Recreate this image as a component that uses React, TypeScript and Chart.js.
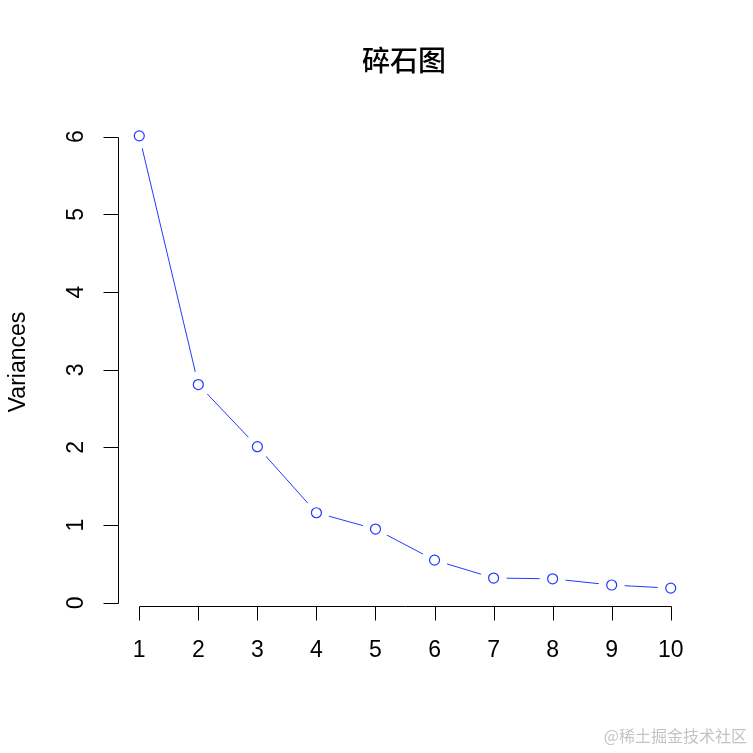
import { useEffect, useRef } from "react";
import { Chart, registerables } from "chart.js";

Chart.register(...registerables);

const components = [1, 2, 3, 4, 5, 6, 7, 8, 9, 10];
const variances = [6.01, 2.81, 2.01, 1.16, 0.95, 0.55, 0.32, 0.31, 0.23, 0.19];
const xTicks = [1, 2, 3, 4, 5, 6, 7, 8, 9, 10];
const yTicks = [0, 1, 2, 3, 4, 5, 6];
const titleText = "碎石图";
const yLabel = "Variances";
const watermark = "@稀土掘金技术社区";

const BLUE = "#1f3cff";
const LABEL_FONT = "23px 'Liberation Sans', Arial, sans-serif";

const rAxesPlugin = {
  id: "rAxes",
  afterDraw(chart: any) {
    const { ctx, chartArea } = chart;
    const xs = chart.scales.x;
    const ys = chart.scales.y;
    ctx.save();
    ctx.strokeStyle = "#000";
    ctx.fillStyle = "#000";
    ctx.lineWidth = 1;

    // Y axis
    const ax = Math.round(chartArea.left) + 0.5;
    const yTop = Math.round(ys.getPixelForValue(yTicks[yTicks.length - 1])) + 0.5;
    const yBot = Math.round(ys.getPixelForValue(yTicks[0])) + 0.5;
    ctx.beginPath();
    ctx.moveTo(ax, yTop);
    ctx.lineTo(ax, yBot);
    yTicks.forEach((t) => {
      const py = Math.round(ys.getPixelForValue(t)) + 0.5;
      ctx.moveTo(ax, py);
      ctx.lineTo(ax - 15, py);
    });
    ctx.stroke();
    ctx.font = LABEL_FONT;
    ctx.textAlign = "center";
    ctx.textBaseline = "middle";
    yTicks.forEach((t) => {
      const py = ys.getPixelForValue(t);
      ctx.save();
      ctx.translate(76, py);
      ctx.rotate(-Math.PI / 2);
      ctx.fillText(String(t), 0, 1);
      ctx.restore();
    });

    // X axis
    const ay = Math.round(chartArea.bottom) + 0.5;
    const xL = Math.round(xs.getPixelForValue(xTicks[0])) + 0.5;
    const xR = Math.round(xs.getPixelForValue(xTicks[xTicks.length - 1])) + 0.5;
    ctx.beginPath();
    ctx.moveTo(xL, ay);
    ctx.lineTo(xR, ay);
    xTicks.forEach((t) => {
      const px = Math.round(xs.getPixelForValue(t)) + 0.5;
      ctx.moveTo(px, ay);
      ctx.lineTo(px, ay + 14);
    });
    ctx.stroke();
    xTicks.forEach((t) => {
      ctx.fillText(String(t), xs.getPixelForValue(t), 651);
    });

    // Y label
    ctx.save();
    ctx.translate(19, 362);
    ctx.rotate(-Math.PI / 2);
    ctx.fillText(yLabel, 0, 0);
    ctx.restore();

    // Title
    ctx.font = "500 28px 'Noto Sans CJK SC', sans-serif";
    ctx.fillText(titleText, 404, 60);

    // Watermark
    ctx.font = "16px 'Noto Sans CJK SC', sans-serif";
    ctx.fillStyle = "#c4c4c4";
    ctx.textAlign = "right";
    ctx.fillText(watermark, 747, 736);
    ctx.restore();
  },
};

export default function App() {
  const ref = useRef<HTMLCanvasElement | null>(null);
  useEffect(() => {
    document.body.style.margin = "0";
    if (!ref.current) return;
    const pts = components.map((c, i) => ({ x: c, y: variances[i] }));
    const chart = new Chart(ref.current, {
      type: "line",
      data: {
        datasets: [
          {
            data: pts,
            showLine: false,
            pointRadius: 5,
            pointBorderColor: BLUE,
            pointBackgroundColor: "rgba(0,0,0,0)",
            pointBorderWidth: 1.2,
            order: 1,
          },
          {
            data: pts,
            showLine: true,
            borderColor: BLUE,
            borderWidth: 1,
            tension: 0,
            pointRadius: 13,
            pointBorderWidth: 0,
            pointBorderColor: "#fff",
            pointBackgroundColor: "#fff",
            order: 2,
          },
        ],
      },
      options: {
        animation: false,
        responsive: false,
        events: [],
        layout: { padding: { left: 118, right: 61, top: 118, bottom: 147 } },
        plugins: { legend: { display: false }, tooltip: { enabled: false }, title: { display: false } },
        scales: {
          x: { type: "linear", min: 0.64, max: 10.36, display: false },
          y: { type: "linear", min: -0.04, max: 6.24, display: false },
        },
      },
      plugins: [rAxesPlugin],
    });
    return () => chart.destroy();
  }, []);
  return (
    <div style={{ width: 753, height: 753, background: "#fff" }}>
      <canvas ref={ref} width={753} height={753} style={{ display: "block" }} />
    </div>
  );
}
